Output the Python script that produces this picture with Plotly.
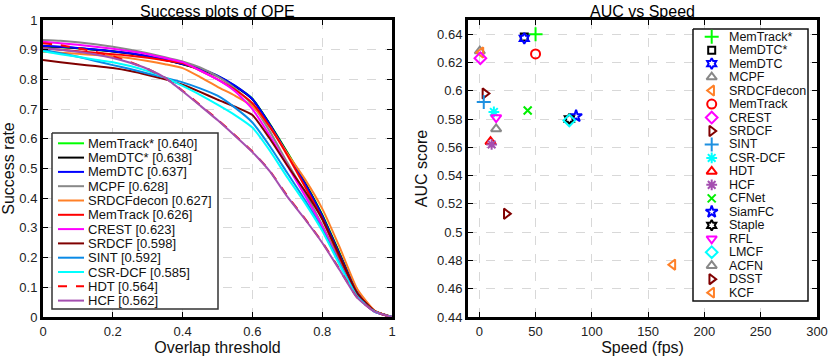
import plotly.graph_objects as go

# ---------------- data ----------------
thresholds = [0.0, 0.05, 0.1, 0.15, 0.2, 0.25, 0.3, 0.35, 0.4, 0.45, 0.5,
              0.55, 0.6, 0.65, 0.7, 0.75, 0.8, 0.85, 0.9, 0.95, 1.0]

curve_names = ["MemTrack*", "MemDTC*", "MemDTC", "MCPF", "SRDCFdecon", "MemTrack",
               "CREST", "SRDCF", "SINT", "CSR-DCF", "HDT", "HCF"]
curve_auc = ["0.640", "0.638", "0.637", "0.628", "0.627", "0.626",
             "0.623", "0.598", "0.592", "0.585", "0.564", "0.562"]
curve_colors = ["#00ff00", "#000000", "#0000ff", "#888888", "#ff8028", "#ff0000",
                "#ff00ff", "#800000", "#0a8ae6", "#00ffff", "#ff0000", "#a44fb0"]
curve_dash = ["solid"] * 10 + ["dash", "solid"]

memtrack_star = [0.910, 0.908, 0.905, 0.900, 0.895, 0.888, 0.878, 0.866, 0.852, 0.835, 0.812,
                 0.778, 0.735, 0.650, 0.555, 0.455, 0.345, 0.215, 0.085, 0.020, 0.0]
memdtc_star = [0.912, 0.909, 0.905, 0.900, 0.894, 0.887, 0.877, 0.865, 0.851, 0.834, 0.811,
               0.777, 0.733, 0.648, 0.552, 0.452, 0.342, 0.212, 0.083, 0.020, 0.0]
memdtc = [0.913, 0.910, 0.906, 0.901, 0.895, 0.888, 0.878, 0.866, 0.852, 0.836, 0.813,
          0.779, 0.734, 0.647, 0.550, 0.450, 0.340, 0.210, 0.082, 0.019, 0.0]
mcpf = [0.933, 0.930, 0.925, 0.918, 0.910, 0.900, 0.888, 0.875, 0.860, 0.840, 0.810,
        0.770, 0.715, 0.625, 0.520, 0.420, 0.310, 0.190, 0.075, 0.018, 0.0]
srdcfdecon = [0.893, 0.890, 0.886, 0.882, 0.878, 0.871, 0.862, 0.851, 0.838, 0.808, 0.775,
              0.745, 0.710, 0.640, 0.550, 0.465, 0.365, 0.235, 0.095, 0.022, 0.0]
memtrack = [0.905, 0.900, 0.895, 0.890, 0.885, 0.880, 0.873, 0.864, 0.855, 0.830, 0.800,
            0.765, 0.720, 0.640, 0.545, 0.440, 0.330, 0.200, 0.080, 0.020, 0.0]
crest = [0.927, 0.922, 0.917, 0.910, 0.903, 0.895, 0.885, 0.872, 0.858, 0.830, 0.800,
         0.760, 0.700, 0.610, 0.510, 0.410, 0.305, 0.180, 0.070, 0.018, 0.0]
srdcf = [0.865, 0.858, 0.851, 0.845, 0.838, 0.828, 0.815, 0.800, 0.782, 0.758, 0.732,
         0.708, 0.680, 0.600, 0.510, 0.425, 0.330, 0.205, 0.080, 0.020, 0.0]
sint = [0.900, 0.888, 0.876, 0.862, 0.848, 0.835, 0.820, 0.806, 0.790, 0.770, 0.745,
        0.705, 0.655, 0.575, 0.485, 0.395, 0.295, 0.180, 0.070, 0.018, 0.0]
csr_dcf = [0.895, 0.885, 0.876, 0.866, 0.858, 0.845, 0.828, 0.806, 0.778, 0.748, 0.715,
           0.680, 0.638, 0.560, 0.470, 0.385, 0.290, 0.175, 0.068, 0.018, 0.0]
hdt = [0.922, 0.915, 0.905, 0.893, 0.878, 0.858, 0.835, 0.805, 0.762, 0.714, 0.665,
       0.612, 0.557, 0.492, 0.408, 0.332, 0.252, 0.160, 0.066, 0.018, 0.0]
hcf = [0.905, 0.900, 0.893, 0.884, 0.872, 0.856, 0.835, 0.805, 0.760, 0.712, 0.663,
       0.610, 0.555, 0.490, 0.405, 0.330, 0.250, 0.158, 0.065, 0.018, 0.0]
curve_values = [memtrack_star, memdtc_star, memdtc, mcpf, srdcfdecon, memtrack,
                crest, srdcf, sint, csr_dcf, hdt, hcf]

pt_names = ["MemTrack*", "MemDTC*", "MemDTC", "MCPF", "SRDCFdecon", "MemTrack", "CREST",
            "SRDCF", "SINT", "CSR-DCF", "HDT", "HCF", "CFNet", "SiamFC", "Staple", "RFL",
            "LMCF", "ACFN", "DSST", "KCF"]
pt_speed = [50, 40, 40, 0.5, 1.5, 50, 1, 5, 4, 13, 10, 11, 43, 86, 80, 15, 80, 15, 24, 172]
pt_auc = [0.640, 0.638, 0.637, 0.628, 0.627, 0.626, 0.623, 0.598, 0.592, 0.585, 0.564,
          0.562, 0.586, 0.582, 0.580, 0.581, 0.579, 0.573, 0.513, 0.477]
pt_symbols = ["cross-thin-open", "square-open", "hexagram-open", "triangle-up-open",
              "triangle-left-open", "circle-open", "diamond-open", "triangle-right-open",
              "cross-thin-open", "asterisk-open", "triangle-up-open", "asterisk-open",
              "x-thin-open", "star-open", "hexagram-open", "triangle-down-open",
              "diamond-open", "triangle-up-open", "triangle-right-open", "triangle-left-open"]
pt_colors = ["#00ff00", "#000000", "#0000ff", "#888888", "#ff8028", "#ff0000", "#ff00ff",
             "#800000", "#1e90e0", "#00ffff", "#ff0000", "#a44fb0", "#00ee00", "#0000ff",
             "#000000", "#ff00ff", "#00ffff", "#888888", "#800000", "#ff8028"]
pt_sizes = [10, 7, 8, 9, 9, 9, 9, 9, 10, 9, 9, 9, 8, 9, 8, 9, 9, 9, 9, 9]

x1_ticks = [0, 0.2, 0.4, 0.6, 0.8, 1]
y1_ticks = [0, 0.1, 0.2, 0.3, 0.4, 0.5, 0.6, 0.7, 0.8, 0.9, 1]
x2_ticks = [0, 50, 100, 150, 200, 250, 300]
y2_ticks = [0.44, 0.46, 0.48, 0.5, 0.52, 0.54, 0.56, 0.58, 0.6, 0.62, 0.64]
y2_labels = ["0.44", "0.46", "0.48", "0.5", "0.52", "0.54", "0.56", "0.58", "0.6", "0.62", "0.64"]

# ---------------- layout constants (pixels) ----------------
W, H = 830, 357
FONT = "Liberation Sans, Arial, Helvetica, sans-serif"
L1, R1, L2, R2, TOP, BOT = 43, 392, 468, 817, 20, 317

fig = go.Figure()

for name, vals, col, dash in zip(curve_names, curve_values, curve_colors, curve_dash):
    fig.add_trace(go.Scatter(x=thresholds, y=vals, mode="lines", name=name,
                             line=dict(color=col, width=2, dash=dash, shape="spline", smoothing=0.5),
                             xaxis="x", yaxis="y", showlegend=False, hoverinfo="skip"))

for name, s, a, sym, col, sz in zip(pt_names, pt_speed, pt_auc, pt_symbols, pt_colors, pt_sizes):
    fig.add_trace(go.Scatter(x=[s], y=[a], mode="markers", name=name,
                             marker=dict(symbol=sym, size=sz, color=col, line=dict(color=col, width=2)),
                             xaxis="x2", yaxis="y2", showlegend=False, hoverinfo="skip"))

# ---- custom legends on a pixel overlay axis ----
annotations = []
lb = (52, 133, 218, 309)
fig.add_trace(go.Scatter(x=[lb[0], lb[2], lb[2], lb[0], lb[0]], y=[lb[1], lb[1], lb[3], lb[3], lb[1]],
                         mode="lines", fill="toself", fillcolor="white",
                         line=dict(color="#333333", width=1.5), xaxis="x3", yaxis="y3",
                         showlegend=False, hoverinfo="skip"))
for i, (name, auc, col, dash) in enumerate(zip(curve_names, curve_auc, curve_colors, curve_dash)):
    yc = 143.3 + 14.3 * i
    fig.add_trace(go.Scatter(x=[58, 84], y=[yc, yc], mode="lines",
                             line=dict(color=col, width=2, dash=dash), xaxis="x3", yaxis="y3",
                             showlegend=False, hoverinfo="skip"))
    annotations.append(dict(x=87, y=yc, xref="x3", yref="y3", text=f"{name} [{auc}]",
                            showarrow=False, xanchor="left", yanchor="middle", borderpad=0,
                            font=dict(family=FONT, size=13, color="#111")))
rb = (693, 29, 808, 301)
fig.add_trace(go.Scatter(x=[rb[0], rb[2], rb[2], rb[0], rb[0]], y=[rb[1], rb[1], rb[3], rb[3], rb[1]],
                         mode="lines", fill="toself", fillcolor="white",
                         line=dict(color="#111111", width=1.5), xaxis="x3", yaxis="y3",
                         showlegend=False, hoverinfo="skip"))
for i, (name, sym, col, sz) in enumerate(zip(pt_names, pt_symbols, pt_colors, pt_sizes)):
    yc = 36.7 + 13.47 * i
    fig.add_trace(go.Scatter(x=[711.7], y=[yc], mode="markers",
                             marker=dict(symbol=sym, size=sz, color=col, line=dict(color=col, width=2)),
                             xaxis="x3", yaxis="y3", showlegend=False, hoverinfo="skip"))
    annotations.append(dict(x=728, y=yc, xref="x3", yref="y3", text=name,
                            showarrow=False, xanchor="left", yanchor="middle", borderpad=0,
                            font=dict(family=FONT, size=12.5, color="#111")))

annotations.append(dict(x=(L1 + R1) / 2, y=11, xref="x3", yref="y3", text="Success plots of OPE",
                        showarrow=False, xanchor="center", yanchor="middle",
                        font=dict(family=FONT, size=16, color="#000")))
annotations.append(dict(x=(L2 + R2) / 2, y=11, xref="x3", yref="y3", text="AUC vs Speed",
                        showarrow=False, xanchor="center", yanchor="middle",
                        font=dict(family=FONT, size=16, color="#000")))

axis_common = dict(showline=True, linewidth=3, linecolor="black", mirror="ticks",
                   ticks="inside", ticklen=5, tickwidth=1, tickcolor="black",
                   showgrid=True, gridcolor="#d8d8d8", griddash="dash", gridwidth=1,
                   zeroline=False, tickfont=dict(family=FONT, size=13, color="#222"),
                   fixedrange=True, automargin=False)

fig.update_layout(
    width=W, height=H, autosize=False,
    margin=dict(l=0, r=0, t=0, b=0, pad=0),
    paper_bgcolor="white", plot_bgcolor="rgba(0,0,0,0)",
    showlegend=False,
    xaxis=dict(axis_common, domain=[L1 / W, R1 / W], range=[0, 1], tickvals=x1_ticks, anchor="y",
               title=dict(text="Overlap threshold", font=dict(family=FONT, size=16, color="#111"), standoff=4)),
    yaxis=dict(axis_common, domain=[1 - BOT / H, 1 - TOP / H], range=[0, 1], tickvals=y1_ticks, anchor="x",
               title=dict(text="Success rate", font=dict(family=FONT, size=16, color="#111"), standoff=6)),
    xaxis2=dict(axis_common, domain=[L2 / W, R2 / W], range=[-10, 300], tickvals=x2_ticks, anchor="y2",
                title=dict(text="Speed (fps)", font=dict(family=FONT, size=16, color="#111"), standoff=4)),
    yaxis2=dict(axis_common, domain=[1 - BOT / H, 1 - TOP / H], range=[0.44, 0.65], tickvals=y2_ticks,
                ticktext=y2_labels, anchor="x2",
                title=dict(text="AUC score", font=dict(family=FONT, size=16, color="#111"), standoff=6)),
    xaxis3=dict(domain=[0, 1], range=[0, W], visible=False, anchor="y3", fixedrange=True),
    yaxis3=dict(domain=[0, 1], range=[H, 0], visible=False, anchor="x3", fixedrange=True),
    annotations=annotations,
)

fig.write_html("out.html", config={"displayModeBar": False},
               post_script="document.body.style.margin='0';document.body.style.overflow='hidden';")
